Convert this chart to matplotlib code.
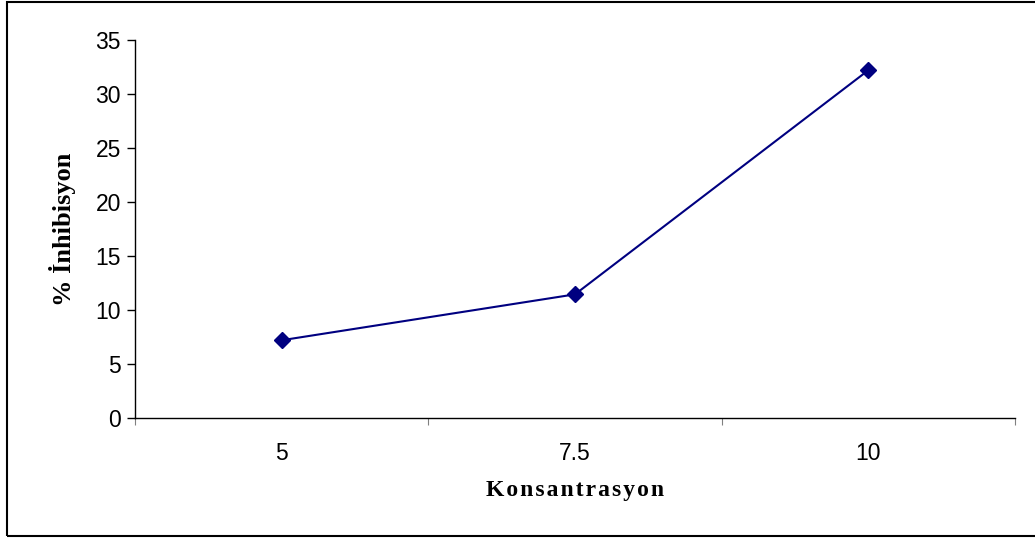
import matplotlib.pyplot as plt
from matplotlib.patches import Rectangle

# --- data ---
categories = ['5', '7.5', '10']
inhibition = [7.2, 11.45, 32.2]
y_ticks = [0, 5, 10, 15, 20, 25, 30, 35]

fig = plt.figure(figsize=(10.35, 5.38), dpi=100)
ax = fig.add_axes([0.1304, 0.223, 0.8503, 0.7027])

x = list(range(len(categories)))
ax.plot(x, inhibition, color='#000080', lw=1.5, marker='D', ms=8, mfc='#000080', mec='#000080')

ax.set_xlim(-0.5, len(categories) - 0.5)
ax.set_ylim(0, 35)
ax.set_yticks(y_ticks)
ax.set_yticklabels([str(v) for v in y_ticks], fontfamily='Liberation Sans', fontsize=16.5)

# category boundaries carry the tick marks, labels sit centred between them
ax.set_xticks([i - 0.5 for i in range(len(categories) + 1)])
ax.set_xticklabels([])
ax.set_xticks(x, minor=True)
ax.set_xticklabels(categories, minor=True, fontfamily='Liberation Sans', fontsize=16.5)
ax.tick_params(axis='x', which='major', direction='out', length=5, color='#808080')
ax.tick_params(axis='x', which='minor', length=0, pad=17)
ax.tick_params(axis='y', direction='out', length=6, width=1, pad=4)

for s in ['top', 'right']:
    ax.spines[s].set_visible(False)
ax.spines['left'].set_linewidth(1)
ax.spines['bottom'].set_linewidth(1)

ax.set_xlabel('\u200a'.join('Konsantrasyon'), fontfamily=['Liberation Serif', 'DejaVu Serif'],
              fontweight='bold', fontsize=17, labelpad=11)
ax.set_ylabel('% İnhibisyon', fontfamily='Liberation Serif', fontweight='bold',
              fontsize=19, labelpad=14)

# outer chart border (right edge runs off the image)
fig.patches.append(Rectangle((7 / 1035, 2 / 538), 1040 / 1035, 534 / 538,
                             transform=fig.transFigure, fill=False, ec='black', lw=1.5))

fig.savefig('out.png', dpi=100)
